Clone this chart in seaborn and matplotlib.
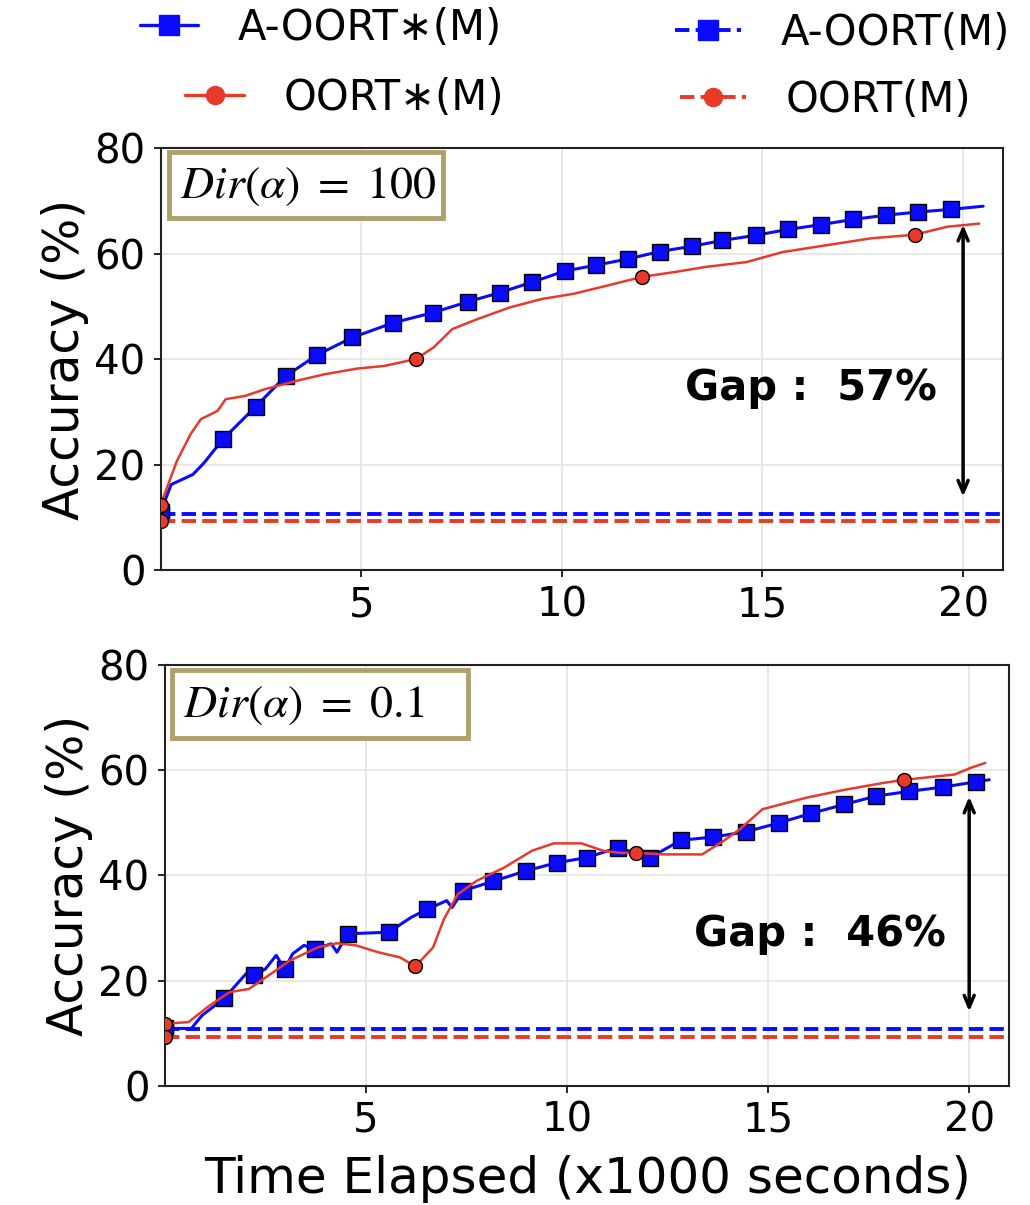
import matplotlib
matplotlib.use("Agg")
import matplotlib.pyplot as plt
from matplotlib.lines import Line2D
from matplotlib.patches import Rectangle
import seaborn as sns

# ---- data (time in x1000 s, accuracy in %) ----
top_aoort_star_t = [0, 0.26, 0.8, 1.08, 1.55, 2.37, 3.12, 3.90, 4.78, 5.80, 6.78, 7.67, 8.45, 9.26,
                    10.07, 10.84, 11.65, 12.44, 13.24, 14.0, 14.84, 15.64, 16.46, 17.26, 18.08,
                    18.88, 19.70, 20.5]
top_aoort_star_acc = [11.0, 16.2, 18.1, 20.3, 24.8, 31.0, 36.8, 40.8, 44.1, 46.9, 48.8, 50.9, 52.6,
                      54.6, 56.7, 57.8, 59.0, 60.4, 61.4, 62.5, 63.5, 64.6, 65.5, 66.5, 67.3, 67.9,
                      68.4, 69.0]
top_aoort_star_marks = [0] + list(range(4, 27))

top_oort_star_t = [0, 0.4, 0.74, 1.0, 1.42, 1.62, 2.1, 2.6, 3.4, 4.07, 4.9, 5.57, 6.36, 6.8, 7.27,
                   7.9, 8.7, 9.5, 10.3, 11.0, 12.0, 12.8, 13.6, 14.6, 15.5, 16.6, 17.7, 18.8,
                   19.6, 20.4]
top_oort_star_acc = [12.4, 20.6, 25.7, 28.6, 30.2, 32.4, 33.0, 34.3, 35.9, 37.1, 38.2, 38.7, 40.0,
                     42.2, 45.7, 47.6, 49.8, 51.4, 52.4, 53.7, 55.6, 56.5, 57.5, 58.4, 60.3, 61.6,
                     62.9, 63.6, 65.1, 65.7]
top_oort_star_marks = [0, 12, 20, 27]

top_aoort_acc = 10.6
top_oort_acc = 9.2

bot_aoort_star_t = [0, 0.66, 0.93, 1.475, 2.02, 2.23, 2.5, 2.77, 2.98, 3.18, 3.46, 3.73, 4.14, 4.28,
                    4.55, 5.57, 6.12, 6.53, 7.01, 7.14, 7.42, 8.17, 8.99, 9.74, 10.49, 11.27, 12.06,
                    12.84, 13.63, 14.45, 15.27, 16.07, 16.89, 17.69, 18.51, 19.34, 20.16, 20.5]
bot_aoort_star_acc = [10.9, 10.9, 13.4, 16.6, 21.3, 21.0, 22.2, 24.8, 22.2, 25.1, 26.7, 26.0, 27.0,
                      25.4, 28.9, 29.2, 32.0, 33.6, 35.2, 33.9, 37.1, 38.9, 40.9, 42.4, 43.4, 45.3,
                      43.4, 46.7, 47.3, 48.3, 50.0, 51.8, 53.5, 55.1, 56.0, 56.8, 57.8, 58.2]
bot_aoort_star_marks = [0, 3, 5, 8, 11, 14, 15, 17, 20] + list(range(21, 37))

bot_oort_star_t = [0, 0.59, 1.07, 1.61, 2.09, 2.70, 3.11, 3.80, 4.28, 4.75, 5.30, 5.85, 6.23, 6.67,
                   6.94, 7.28, 7.76, 8.44, 9.13, 9.67, 10.36, 10.9, 11.31, 11.72, 12.4, 13.36, 13.9,
                   14.3, 14.86, 15.96, 16.91, 17.87, 18.39, 19.64, 20.05, 20.4]
bot_oort_star_acc = [11.8, 12.1, 15.0, 17.8, 18.4, 21.6, 23.8, 26.3, 27.1, 26.7, 25.4, 24.4, 22.7,
                     26.3, 31.7, 36.4, 39.0, 41.5, 44.7, 46.1, 46.1, 44.7, 44.3, 44.3, 44.0, 44.0,
                     46.6, 48.8, 52.6, 54.8, 56.3, 57.6, 58.2, 59.2, 60.5, 61.4]
bot_oort_star_marks = [0, 12, 23, 32]

bot_aoort_acc = 10.7
bot_oort_acc = 9.3

base_t = [0, 21]

panel_titles = [r"$Dir(\alpha)\ =\ 100$", r"$Dir(\alpha)\ =\ 0.1$"]
gap_labels = ["Gap :  57%", "Gap :  46%"]
gap_ranges = [(13.4, 66.0), (13.6, 55.5)]
gap_text_pos = [(16.2, 34.5), (16.3, 28.9)]
legend_labels = ["A-OORT\u2217(M)", "OORT\u2217(M)", "A-OORT(M)", "OORT(M)"]

BLUE = "#0a0aff"
RED = "#e8392b"
BOX_EDGE = "#b0a06c"

sns.set_theme(style="whitegrid")
plt.rcParams["font.family"] = ["DejaVu Sans"]
plt.rcParams["mathtext.fontset"] = "stix"
plt.rcParams["text.color"] = "black"
plt.rcParams["axes.labelcolor"] = "black"
plt.rcParams["xtick.color"] = "black"
plt.rcParams["ytick.color"] = "black"


def draw_panel(ax, star_a, star_o, base_a, base_o, title, box, gap_label, gap_range, gap_pos):
    t, acc, marks = star_a
    sns.lineplot(x=t, y=acc, ax=ax, color=BLUE, lw=2.2, marker="s", markersize=11,
                 markerfacecolor=BLUE, markeredgecolor="black", markeredgewidth=1,
                 markevery=marks, zorder=3)
    sns.lineplot(x=base_t, y=[base_a] * len(base_t), ax=ax, color=BLUE, lw=2.8, ls="--",
                 marker="s", markersize=11, markerfacecolor=BLUE, markeredgecolor="black",
                 markeredgewidth=1, markevery=[0], zorder=3)
    t, acc, marks = star_o
    sns.lineplot(x=t, y=acc, ax=ax, color=RED, lw=1.8, marker="o", markersize=10,
                 markerfacecolor=RED, markeredgecolor="black", markeredgewidth=1,
                 markevery=marks, zorder=4)
    sns.lineplot(x=base_t, y=[base_o] * len(base_t), ax=ax, color=RED, lw=2.8, ls="--",
                 marker="o", markersize=10, markerfacecolor=RED, markeredgecolor="black",
                 markeredgewidth=1, markevery=[0], zorder=4)

    ax.set_xlim(0, 21)
    ax.set_ylim(0, 80)
    ax.set_xticks([5, 10, 15, 20])
    ax.set_yticks([0, 20, 40, 60, 80])
    ax.tick_params(labelsize=29, length=5, width=1.2, color="black", pad=6,
                   bottom=True, left=True)
    ax.grid(True, color="#e4e4e4", lw=1.2)
    for sp in ax.spines.values():
        sp.set_color("#222222")
        sp.set_linewidth(1.5)
    ax.set_ylabel("Accuracy (%)", fontsize=35, labelpad=4)

    # framed condition label (box given in axes fraction: x0, y0, w, h)
    x0, y0, w, h = box
    ax.add_patch(Rectangle((x0, y0), w, h, transform=ax.transAxes, fc="white",
                           ec=BOX_EDGE, lw=3.5, zorder=6))
    ax.text(x0 + 0.013, y0 + h / 2, title, transform=ax.transAxes, fontsize=33,
            va="center", ha="left", zorder=7)
    ax.annotate("", xy=(20, gap_range[1]), xytext=(20, gap_range[0]),
                arrowprops=dict(arrowstyle="<->,head_length=0.7,head_width=0.3",
                                lw=2.5, color="black"))
    ax.text(gap_pos[0], gap_pos[1], gap_label, fontsize=30, fontweight="bold",
            ha="center", va="center")


fig = plt.figure(figsize=(10.3, 12.05), dpi=100)
ax1 = fig.add_axes([0.156, 0.527, 0.818, 0.350])
ax2 = fig.add_axes([0.160, 0.099, 0.820, 0.349])

draw_panel(ax1, (top_aoort_star_t, top_aoort_star_acc, top_aoort_star_marks),
           (top_oort_star_t, top_oort_star_acc, top_oort_star_marks),
           top_aoort_acc, top_oort_acc, panel_titles[0], (0.0095, 0.834, 0.325, 0.156),
           gap_labels[0], gap_ranges[0], gap_text_pos[0])
draw_panel(ax2, (bot_aoort_star_t, bot_aoort_star_acc, bot_aoort_star_marks),
           (bot_oort_star_t, bot_oort_star_acc, bot_oort_star_marks),
           bot_aoort_acc, bot_oort_acc, panel_titles[1], (0.0085, 0.827, 0.350, 0.161),
           gap_labels[1], gap_ranges[1], gap_text_pos[1])
ax2.set_xlabel("Time Elapsed (x1000 seconds)", fontsize=36, labelpad=10)
ax1.set_xlabel("")

# legend: four single-entry legends placed like the original
handles = [
    Line2D([], [], color=BLUE, lw=2.4, marker="s", markersize=14, markerfacecolor=BLUE,
           markeredgecolor=BLUE),
    Line2D([], [], color=RED, lw=2.4, marker="o", markersize=13, markerfacecolor=RED,
           markeredgecolor=RED),
    Line2D([], [], color=BLUE, lw=2.8, ls="--", marker="s", markersize=14,
           markerfacecolor=BLUE, markeredgecolor=BLUE),
    Line2D([], [], color=RED, lw=2.8, ls="--", marker="o", markersize=13,
           markerfacecolor=RED, markeredgecolor=RED),
]
anchors = [(0.136, 0.977), (0.180, 0.919), (0.655, 0.973), (0.660, 0.917)]
hlens = [1.4, 1.4, 1.6, 1.6]
for h, lab, anc, hl in zip(handles, legend_labels, anchors, hlens):
    fig.legend(handles=[h], labels=[lab], loc="center left", bbox_to_anchor=anc,
               frameon=False, fontsize=30, handlelength=hl, handletextpad=0.95,
               borderpad=0, borderaxespad=0)

fig.savefig("out.png", dpi=100)
